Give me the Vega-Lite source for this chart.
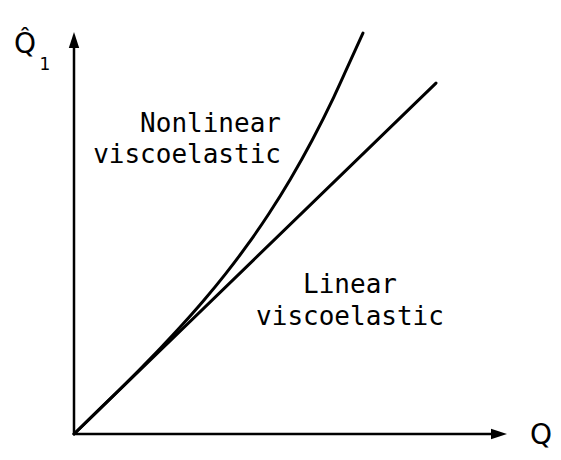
{
  "$schema": "https://vega.github.io/schema/vega-lite/v6.json",
  "width": 561,
  "height": 460,
  "padding": 0,
  "autosize": {"type": "fit", "contains": "padding"},
  "background": "white",
  "config": {"view": {"stroke": null}},
  "encoding": {
    "x": {"type": "quantitative", "scale": {"domain": [-1.709, 11.247], "nice": false, "zero": false}, "axis": null},
    "y": {"type": "quantitative", "scale": {"domain": [-0.647, 10.796], "nice": false, "zero": false}, "axis": null}
  },
  "layer": [
    {
      "data": {"values": [
        {"axis": "y", "x0": 0, "y0": 0, "x1": 0, "y1": 9.8},
        {"axis": "x", "x0": 0, "y0": 0, "x1": 9.8, "y1": 0}
      ]},
      "mark": {"type": "rule", "color": "black", "strokeWidth": 2.5},
      "encoding": {
        "x": {"field": "x0", "type": "quantitative"},
        "y": {"field": "y0", "type": "quantitative"},
        "x2": {"field": "x1"},
        "y2": {"field": "y1"}
      }
    },
    {
      "data": {"values": [{"x": 0, "y": 9.8}]},
      "mark": {"type": "point", "shape": "M0,-1L0.65,1L-0.65,1Z", "size": 256, "filled": true, "color": "black", "opacity": 1},
      "encoding": {
        "x": {"field": "x", "type": "quantitative"},
        "y": {"field": "y", "type": "quantitative"}
      }
    },
    {
      "data": {"values": [{"x": 9.815, "y": 0}]},
      "mark": {"type": "point", "shape": "M1,0L-1,-0.65L-1,0.65Z", "size": 256, "filled": true, "color": "black", "opacity": 1},
      "encoding": {
        "x": {"field": "x", "type": "quantitative"},
        "y": {"field": "y", "type": "quantitative"}
      }
    },
    {
      "data": {"values": [
        {"series": "Linear", "x": 0, "y": 0},
        {"series": "Linear", "x": 8.36, "y": 8.73},
        {"series": "Nonlinear", "x": 0, "y": 0},
        {"series": "Nonlinear", "x": 0.5, "y": 0.524},
        {"series": "Nonlinear", "x": 1, "y": 1.051},
        {"series": "Nonlinear", "x": 1.5, "y": 1.587},
        {"series": "Nonlinear", "x": 2, "y": 2.139},
        {"series": "Nonlinear", "x": 2.5, "y": 2.716},
        {"series": "Nonlinear", "x": 3, "y": 3.327},
        {"series": "Nonlinear", "x": 3.5, "y": 3.983},
        {"series": "Nonlinear", "x": 4, "y": 4.696},
        {"series": "Nonlinear", "x": 4.5, "y": 5.479},
        {"series": "Nonlinear", "x": 5, "y": 6.345},
        {"series": "Nonlinear", "x": 5.5, "y": 7.308},
        {"series": "Nonlinear", "x": 6, "y": 8.382},
        {"series": "Nonlinear", "x": 6.3, "y": 9.087},
        {"series": "Nonlinear", "x": 6.674, "y": 9.975}
      ]},
      "mark": {"type": "line", "color": "black", "strokeWidth": 3, "interpolate": "monotone", "strokeCap": "round"},
      "encoding": {
        "x": {"field": "x", "type": "quantitative"},
        "y": {"field": "y", "type": "quantitative"},
        "detail": {"field": "series"}
      }
    },
    {
      "data": {"values": [
        {"label": "Nonlinear", "x": 4.78, "y": 7.51},
        {"label": "viscoelastic", "x": 4.78, "y": 6.74}
      ]},
      "mark": {"type": "text", "font": "DejaVu Sans Mono", "fontSize": 26, "align": "right", "baseline": "alphabetic", "color": "black"},
      "encoding": {
        "x": {"field": "x", "type": "quantitative"},
        "y": {"field": "y", "type": "quantitative"},
        "text": {"field": "label"}
      }
    },
    {
      "data": {"values": [
        {"label": "Linear", "x": 6.374, "y": 3.507},
        {"label": "viscoelastic", "x": 6.374, "y": 2.71}
      ]},
      "mark": {"type": "text", "font": "DejaVu Sans Mono", "fontSize": 26, "align": "center", "baseline": "alphabetic", "color": "black"},
      "encoding": {
        "x": {"field": "x", "type": "quantitative"},
        "y": {"field": "y", "type": "quantitative"},
        "text": {"field": "label"}
      }
    },
    {
      "data": {"values": [
        {"label": "Q", "x": 10.785, "y": -0.249},
        {"label": "Q̂", "x": -1.132, "y": 9.478}
      ]},
      "mark": {"type": "text", "font": "DejaVu Sans", "fontSize": 28, "align": "center", "baseline": "alphabetic", "color": "black"},
      "encoding": {
        "x": {"field": "x", "type": "quantitative"},
        "y": {"field": "y", "type": "quantitative"},
        "text": {"field": "label"}
      }
    },
    {
      "data": {"values": [{"label": "1", "x": -0.67, "y": 9.05}]},
      "mark": {"type": "text", "font": "DejaVu Sans", "fontSize": 17, "align": "center", "baseline": "alphabetic", "color": "black"},
      "encoding": {
        "x": {"field": "x", "type": "quantitative"},
        "y": {"field": "y", "type": "quantitative"},
        "text": {"field": "label"}
      }
    }
  ]
}
